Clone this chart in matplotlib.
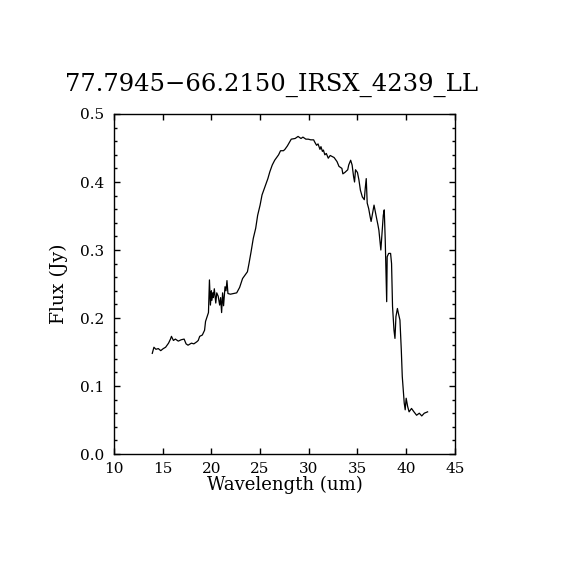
import numpy as np
import matplotlib
matplotlib.use('Agg')
import matplotlib.pyplot as plt
from matplotlib.ticker import MultipleLocator

# spectrum values
wave = [13.93, 14.1, 14.3, 14.55, 14.8, 15.06, 15.3, 15.6, 15.8, 15.9, 16.1, 16.3,
        16.6, 16.9, 17.2, 17.4, 17.6, 17.95, 18.2, 18.5, 18.65, 18.8, 19.07, 19.3,
        19.4, 19.6, 19.7, 19.8, 19.9, 20.0, 20.05, 20.15, 20.2, 20.3, 20.45, 20.55,
        20.7, 20.85, 20.95, 21.05, 21.15, 21.25, 21.4, 21.5, 21.6, 21.7, 21.95, 22.3,
        22.6, 22.9, 23.2, 23.45, 23.7, 23.86, 24.07, 24.3, 24.55, 24.75, 25.0, 25.2,
        25.5, 25.8, 26.0, 26.25, 26.5, 26.9, 27.1, 27.4, 27.55, 27.8, 28.0, 28.2,
        28.6, 28.9, 29.2, 29.4, 29.7, 29.95, 30.2, 30.5, 30.6, 30.8, 30.95, 31.15,
        31.25, 31.4, 31.5, 31.65, 31.8, 32.0, 32.2, 32.6, 32.9, 33.1, 33.4, 33.5,
        33.7, 34.0, 34.1, 34.3, 34.45, 34.6, 34.7, 34.8, 35.0, 35.15, 35.3, 35.5,
        35.7, 35.8, 35.9, 36.0, 36.15, 36.3, 36.4, 36.55, 36.7, 36.9, 37.0, 37.1,
        37.2, 37.4, 37.5, 37.65, 37.75, 37.85, 37.95, 38.0, 38.05, 38.2, 38.4, 38.5,
        38.6, 38.75, 38.85, 38.95, 39.1, 39.2, 39.36, 39.5, 39.6, 39.8, 39.9, 40.0,
        40.15, 40.3, 40.55, 40.8, 41.07, 41.35, 41.6, 41.86, 42.2]
flux = [0.148, 0.157, 0.154, 0.155, 0.152, 0.155, 0.157, 0.163, 0.169, 0.173, 0.167, 0.169,
        0.166, 0.168, 0.169, 0.162, 0.160, 0.163, 0.162, 0.165, 0.167, 0.173, 0.175, 0.182,
        0.195, 0.204, 0.208, 0.256, 0.219, 0.240, 0.226, 0.237, 0.230, 0.243, 0.222, 0.237,
        0.232, 0.219, 0.230, 0.208, 0.237, 0.218, 0.246, 0.240, 0.255, 0.236, 0.235, 0.236,
        0.237, 0.245, 0.258, 0.263, 0.268, 0.280, 0.297, 0.317, 0.332, 0.351, 0.366, 0.381,
        0.393, 0.405, 0.415, 0.425, 0.432, 0.440, 0.446, 0.446, 0.448, 0.453, 0.458, 0.463,
        0.464, 0.467, 0.464, 0.466, 0.463, 0.463, 0.462, 0.462, 0.459, 0.454, 0.456, 0.448,
        0.452, 0.445, 0.447, 0.440, 0.442, 0.435, 0.439, 0.436, 0.430, 0.423, 0.420, 0.412,
        0.414, 0.418, 0.425, 0.432, 0.425, 0.408, 0.400, 0.418, 0.414, 0.403, 0.388, 0.378,
        0.374, 0.391, 0.405, 0.369, 0.361, 0.349, 0.342, 0.354, 0.366, 0.351, 0.344, 0.337,
        0.329, 0.300, 0.320, 0.351, 0.359, 0.315, 0.258, 0.224, 0.290, 0.295, 0.295, 0.280,
        0.217, 0.182, 0.170, 0.202, 0.214, 0.207, 0.197, 0.153, 0.114, 0.075, 0.065, 0.082,
        0.070, 0.062, 0.067, 0.062, 0.057, 0.060, 0.056, 0.060, 0.062]

title = '77.7945\u221266.2150_IRSX_4239_LL'
serif = 'DejaVu Serif'

fig = plt.figure(figsize=(5.7, 5.7), dpi=100)
ax = fig.add_axes([0.2, 0.2035, 0.598, 0.5965])
ax.plot(wave, flux, color='black', linewidth=0.9)

ax.set_xlim(10, 45)
ax.set_ylim(0.0, 0.5)
ax.xaxis.set_major_locator(MultipleLocator(5))
ax.yaxis.set_major_locator(MultipleLocator(0.1))
ax.yaxis.set_minor_locator(MultipleLocator(0.02))
ax.tick_params(which='both', direction='in', top=True, right=True,
               labelsize=11, width=1)
ax.tick_params(which='major', length=4.3)
ax.tick_params(which='minor', length=2.3)
ax.tick_params(axis='y', pad=7)
ax.tick_params(axis='x', pad=6)
ax.yaxis.set_major_formatter(plt.FuncFormatter(lambda v, p: '%.1f' % v))
for lab in ax.get_xticklabels() + ax.get_yticklabels():
    lab.set_family(serif)
for s in ax.spines.values():
    s.set_linewidth(1)

ax.set_xlabel('Wavelength (um)', family=serif, fontsize=13)
ax.set_ylabel('Flux (Jy)', family=serif, fontsize=13.5)
ax.xaxis.set_label_coords(0.5, -0.064)
ax.xaxis.label.set_va('top')
ax.yaxis.set_label_coords(-0.135, 0.5)
ax.yaxis.label.set_va('bottom')
fig.text(272 / 570, 1 - 85 / 570, title, family=serif, fontsize=17.5,
         ha='center', va='center')

fig.savefig('out.png', dpi=100, facecolor='white')
